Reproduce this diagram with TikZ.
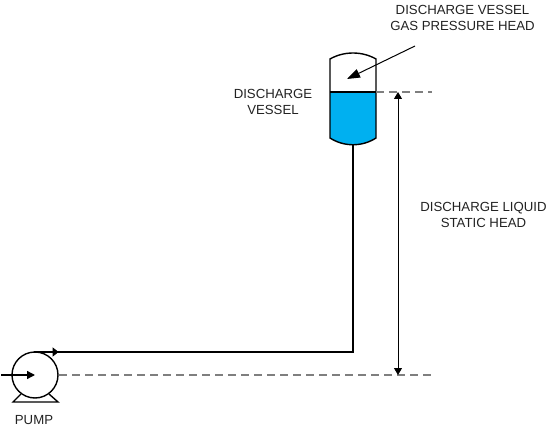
\documentclass[tikz,border=0pt]{standalone}
\usepackage{fontspec}
\setmainfont{Liberation Sans}
\usetikzlibrary{arrows.meta}
\definecolor{liq}{HTML}{00B0F0}
\definecolor{txt}{HTML}{222222}
\definecolor{dashc}{HTML}{7F7F7F}
\tikzset{
  lbl/.style={font=\fontsize{13.2}{16.2}\selectfont,text=txt,align=center,inner sep=0pt},
  pipe/.style={line width=1.35pt,black},
  ref/.style={line width=1.3pt,dashc,dash pattern=on 8pt off 5pt},
  tip/.style={-{Triangle[length=8pt,width=8pt]}},
  thin line/.style={line width=1pt,black}
}
\begin{document}
\begin{tikzpicture}[x=1pt,y=-1pt]
\useasboundingbox (0,0) rectangle (547,428);
% vessel
\fill[liq] (330,92) -- (376,92) -- (376,138) .. controls (362,147) and (344,147) .. (330,138) -- cycle;
\draw[line width=1.4pt] (330,59) .. controls (344,51) and (362,51) .. (376,59) -- (376,138) .. controls (362,147) and (344,147) .. (330,138) -- cycle;
\draw[line width=1.6pt] (330,92) coordinate (lvlL) -- (376,92) coordinate (lvlR);
% named points
\coordinate (vesBot) at (353,145);
\coordinate (elbow) at (353,352);
\coordinate (pumpOut) at (34,352);
\coordinate (pumpC) at (35,375);
\coordinate (inlet) at (1,375);
\coordinate (lvlEnd) at (432,92);
\coordinate (baseEnd) at (432,375);
\coordinate (baseStart) at (59,375);
\coordinate (dimTop) at (398,92);
\coordinate (dimBot) at (398,375);
\coordinate (leadS) at (415,46);
\coordinate (leadE) at (347,79);
% reference lines
\draw[ref] (lvlR) -- (lvlEnd);
\draw[ref] (baseStart) -- (baseEnd);
% pipe
\draw[pipe] (vesBot) -- (elbow) -- (pumpOut);
\draw[line width=0.6pt,fill=black] (53,348) -- (58,352) -- (53,356) -- cycle;
% pump
\node[draw,circle,line width=1.4pt,minimum size=46pt,inner sep=0pt] (pump) at (pumpC) {};
\draw[line width=1.4pt] (21,394) -- (13,402) -- (58,402) -- (49,394);
\draw[pipe,tip] (inlet) -- (pumpC);
% dimension
\draw[thin line,{Triangle[length=7pt,width=8pt]}-{Triangle[length=7pt,width=8pt]}] (dimTop) -- (dimBot);
% leader
\draw[thin line,-{Triangle[length=13pt,width=9pt]}] (leadS) -- (leadE);
% labels
\node[lbl] (t1) at (462.5,18) {DISCHARGE VESSEL\\GAS PRESSURE HEAD};
\node[lbl] (t2) at (273,102) {DISCHARGE\\VESSEL};
\node[lbl] (t3) at (483.5,215) {DISCHARGE LIQUID\\STATIC HEAD};
\node[lbl] (t4) at (34,420) {PUMP};
\end{tikzpicture}
\end{document}
